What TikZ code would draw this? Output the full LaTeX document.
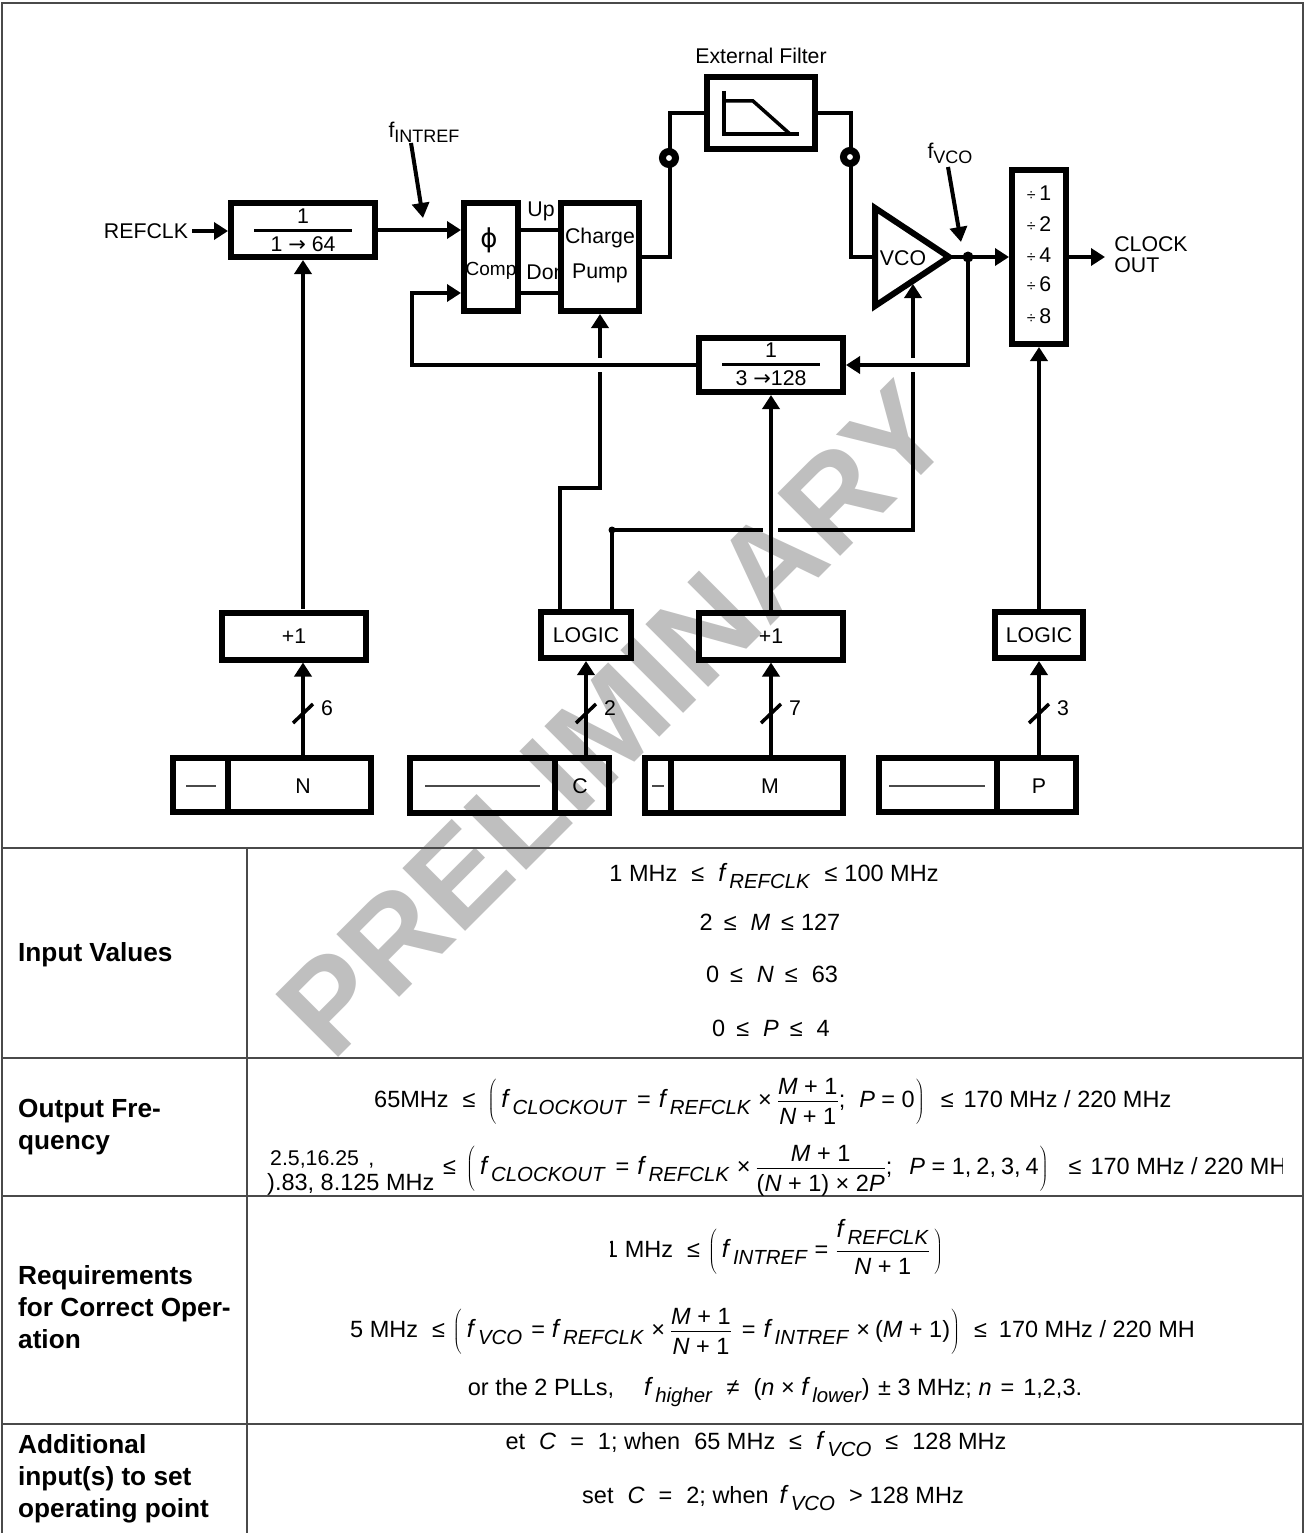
\documentclass[tikz,border=0pt]{standalone}
\usepackage{graphicx}
\usepackage{fontspec}
\setmainfont{Liberation Sans}
\newfontfamily\symbolface{DejaVu Sans}
\usetikzlibrary{arrows.meta}
\newcommand{\lblsize}{\fontsize{21.3}{24}\selectfont}
\newcommand{\mathsize}{\fontsize{23.5}{26}\selectfont}
\newcommand{\fsub}[1]{{\fontsize{25}{26}\selectfont\textit{f}}\hspace{2pt}\raisebox{-7pt}{\fontsize{20.4}{22}\selectfont\textit{#1}}}
\newcommand{\bigfrac}[2]{$\displaystyle\frac{\mbox{\raisebox{-4pt}[.8em][0pt]{#1}}}{\mbox{\raisebox{0pt}[.6em][\depth]{#2}}}$}
\newcommand{\lpar}{\scalebox{1}[.84]{$\left(\vphantom{\displaystyle\frac{\mbox{M}}{\mbox{N}}}\right.$}}
\newcommand{\rpar}{\scalebox{1}[.84]{$\left.\vphantom{\displaystyle\frac{\mbox{M}}{\mbox{N}}}\right)$}}
\newcommand{\gapa}{\hspace{11pt}}
\newcommand{\gapb}{\hspace{14pt}}
\newcommand{\gapc}{\hspace{7pt}}
\newcommand{\timesgap}{\hspace{7pt}×\hspace{5pt}}
\newcommand{\eqgap}{\hspace{10pt}=\hspace{8pt}}
\newcommand{\divsign}{{\fontsize{16}{18}\selectfont ÷}\,}
\newcommand{\rarrow}{{\symbolface\fontsize{21}{24}\selectfont →}}
\definecolor{ruleGray}{HTML}{4A4A4A}
\definecolor{stampGray}{HTML}{BFBFBF}
\tikzset{
	thick box/.style={draw, line width=6pt, inner sep=0pt, align=center, font=\lblsize},
	wire/.style={line width=4pt},
	arrow wire/.style={line width=4pt, -{Triangle[length=14pt,width=17pt]}},
	pointer/.style={line width=4pt, -{Triangle[length=15pt,width=17pt]}},
	label/.style={inner sep=0pt, align=left, font=\lblsize},
	rule line/.style={line width=2.2pt, draw=ruleGray},
	row head/.style={inner sep=0pt, anchor=base west, font=\fontsize{26.2}{28}\selectfont\bfseries},
	formula/.style={inner sep=0pt, anchor=base, font=\mathsize},
	long formula/.style={inner sep=0pt, anchor=base west, font=\mathsize},
	thin dash/.style={line width=1.5pt, draw=ruleGray},
	bus slash/.style={line width=3.5pt},
	tap/.style={circle, fill=black, inner sep=0pt, minimum size=#1},
	ring/.style={circle, draw, line width=7pt, fill=white, inner sep=0pt, minimum size=13pt},
}
\begin{document}
\begin{tikzpicture}[x=1pt, y=-1pt]
	\useasboundingbox (0,0) rectangle (1305,1533);
	\node (stamp) [rotate=45, text=stampGray, inner sep=0pt, font=\fontsize{129}{129}\selectfont\bfseries] at (614,720) {PRELIMINARY};

	% Table rules
	\draw[rule line] (2,1533) -- (2,3) -- (1303,3) -- (1303,1533);
	\draw[rule line] (2,848) -- (1303,848);
	\draw[rule line] (2,1058) -- (1303,1058);
	\draw[rule line] (2,1196) -- (1303,1196);
	\draw[rule line] (2,1424) -- (1303,1424);
	\draw[rule line] (247,848) -- (247,1533);

	% Text that the boxes overlap
	\node (upText) [label] at (541,211) {Up};
	\node (dnText) [label] at (546,272) {Don};

	% Boxes
	\node (divN) [thick box, minimum width=144pt, minimum height=54pt] at (303,230) {};
	\node (comp) [thick box, minimum width=54pt, minimum height=108pt] at (491,257) {};
	\node (pump) [thick box, minimum width=78pt, minimum height=108pt] at (600,257) {};
	\node (filter) [thick box, minimum width=108pt, minimum height=72pt] at (761,113) {};
	\node (divM) [thick box, minimum width=144pt, minimum height=54pt] at (771,365) {};
	\node (mux) [thick box, minimum width=54pt, minimum height=174pt] at (1039,257) {};
	\node (plusN) [thick box, minimum width=144pt, minimum height=47pt] at (294,636) {+1};
	\node (logicC) [thick box, minimum width=90pt, minimum height=46pt] at (586,635) {LOGIC};
	\node (plusM) [thick box, minimum width=144pt, minimum height=47pt] at (771,636) {+1};
	\node (logicP) [thick box, minimum width=88pt, minimum height=46pt] at (1039,635) {LOGIC};
	\node (regNx) [thick box, minimum width=55pt, minimum height=54pt] at (200.5,785) {};
	\node (regN) [thick box, minimum width=143pt, minimum height=54pt] at (299.5,785) {};
	\node (regCx) [thick box, minimum width=145pt, minimum height=55pt] at (482.5,785.5) {};
	\node (regC) [thick box, minimum width=54pt, minimum height=55pt] at (582,785.5) {};
	\node (regMx) [thick box, minimum width=26pt, minimum height=55pt] at (658,785.5) {};
	\node (regM) [thick box, minimum width=172pt, minimum height=55pt] at (757,785.5) {};
	\node (regPx) [thick box, minimum width=118pt, minimum height=54pt] at (938,785) {};
	\node (regP) [thick box, minimum width=79pt, minimum height=54pt] at (1036.5,785) {};
	\node (nText) [label] at (303,786) {N};
	\node (cText) [label] at (580,786) {C};
	\node (mText) [label] at (770,786) {M};
	\node (pText) [label] at (1039,786) {P};

	\coordinate (vcoA) at (875,208);
	\coordinate (vcoB) at (875,306);
	\coordinate (vcoTip) at (949,257);
	\draw[line width=6pt, miter limit=20] (vcoA) -- (vcoTip) -- (vcoB) -- cycle;

	% Box texts
	\node (divNone) [label] at (303,216) {1};
	\node (divNrange) [label] at (303,244) {1 \rarrow{} 64};
	\draw[line width=3pt] (254,230) -- (352,230);
	\node (divMone) [label] at (771,350) {1};
	\node (divMrange) [label] at (771,378) {3 \rarrow{}128};
	\draw[line width=3pt] (722,364) -- (820,364);
	\node (phi) [label, font=\symbolface\fontsize{26}{28}\selectfont] at (489,240) {ϕ};
	\node (compText) [label, font=\fontsize{19}{20}\selectfont] at (491,271) {Comp};
	\node (pumpA) [label] at (600,238) {Charge};
	\node (pumpB) [label] at (600,273) {Pump};
	\node (vcoText) [label] at (903,258) {VCO};
	\node (muxA) [label] at (1039,193) {\divsign 1};
	\node (muxB) [label] at (1039,224) {\divsign 2};
	\node (muxC) [label] at (1039,255) {\divsign 4};
	\node (muxD) [label] at (1039,284) {\divsign 6};
	\node (muxE) [label] at (1039,316) {\divsign 8};

	% Filter sketch
	\draw[line width=3.5pt] (724,91) -- (724,134) -- (799,134);
	\draw[line width=3.5pt] (724,101) -- (753,101) -- (790,134);

	% Outer labels
	\node (filterText) [label] at (761,56) {External Filter};
	\node (refclk) [label] at (146,231) {REFCLK};
	\node (clockOut) [label, font=\fontsize{21.3}{21}\selectfont] at (1151,255) {CLOCK\\OUT};
	\node (fIntref) [label] at (424,132) {f\raisebox{-5pt}{\fontsize{18}{20}\selectfont INTREF}};
	\node (fVco) [label] at (950,153) {f\raisebox{-5pt}{\fontsize{18}{20}\selectfont VCO}};

	% Main path
	\draw[arrow wire, shorten <=4pt] (refclk.east) -- (divN.west |- refclk.east);
	\draw[arrow wire] (divN.east) -- (comp.west |- divN.east);
	\coordinate (dnLow) at (521,293);
	\draw[wire] (comp.east |- divN.east) -- (pump.west |- divN.east);
	\draw[wire] (dnLow) -- (pump.west |- dnLow);
	\coordinate (toFilterL) at (670,113);
	\coordinate (toFilterR) at (851,113);
	\coordinate (tapDot) at (968,257);
	\draw[wire] (pump.east) -- (toFilterL |- pump.east) -- (toFilterL) -- (filter.west);
	\draw[wire] (filter.east) -- (toFilterR) -- (toFilterR |- vcoTip) -- (vcoA |- vcoTip);
	\node (ringL) [ring] at (669,158) {};
	\node (ringR) [ring] at (850,157) {};
	\draw[wire] (vcoTip) -- (tapDot);
	\draw[arrow wire] (tapDot) -- (mux.west);
	\node (tapNode) [tap=11pt] at (tapDot) {};
	\coordinate (clockEnd) at (1105,257);
	\draw[arrow wire] (mux.east) -- (clockEnd);

	% Feedback
	\coordinate (fbLeft) at (412,365);
	\coordinate (compLow) at (461,293);
	\draw[arrow wire] (tapDot) -- (tapDot |- divM.east) -- (divM.east);
	\draw[arrow wire] (divM.west) -- (fbLeft) -- (fbLeft |- compLow) -- (compLow);

	% Pointers
	\coordinate (intrefA) at (411,143);
	\coordinate (intrefB) at (423,218);
	\coordinate (vcoPtrA) at (948,167);
	\coordinate (vcoPtrB) at (961,242);
	\draw[pointer] (intrefA) -- (intrefB);
	\draw[pointer] (vcoPtrA) -- (vcoPtrB);

	% Control lines
	\coordinate (stepA) at (560,488);
	\coordinate (stepB) at (600,488);
	\coordinate (gapA) at (600,372);
	\coordinate (gapB) at (600,358);
	\draw[wire] (logicC.north -| stepA) -- (stepA) -- (stepB) -- (gapA);
	\draw[arrow wire] (gapB) -- (pump.south);
	\coordinate (tapC) at (612,530);
	\coordinate (busGapL) at (763,530);
	\coordinate (busGapR) at (778,530);
	\coordinate (vcoCorner) at (913,530);
	\coordinate (gapC) at (913,372);
	\coordinate (gapD) at (913,358);
	\draw[wire] (logicC.north -| tapC) -- (tapC) -- (busGapL);
	\draw[wire] (busGapR) -- (vcoCorner) -- (gapC);
	\coordinate (vcoUnder) at (913,284);
	\draw[arrow wire] (gapD) -- (vcoUnder);
	\node (tapCNode) [tap=7pt] at (tapC) {};
	\draw[arrow wire] (plusM.north) -- (divM.south);
	\coordinate (nUp) at (303,609);
	\draw[arrow wire] (nUp) -- (divN.south -| nUp);
	\draw[arrow wire] (logicP.north) -- (mux.south);

	% Register buses
	\draw[arrow wire] (nUp |- regN.north) -- (nUp |- plusN.south);
	\draw[arrow wire] (regC.north -| logicC.south) -- (logicC.south);
	\draw[arrow wire] (regM.north -| plusM.south) -- (plusM.south);
	\draw[arrow wire] (regP.north -| logicP.south) -- (logicP.south);
	\foreach \busx/\busn in {303/6, 586/2, 771/7, 1039/3} {
		\draw[bus slash] (\busx-10,723) -- (\busx+10,704);
		\node (bus\busn) [label] at (\busx+24,708) {\busn};
	}
	\draw[thin dash] (186,786) -- (216,786);
	\draw[thin dash] (425,786) -- (540,786);
	\draw[thin dash] (652,786) -- (664,786);
	\draw[thin dash] (889,786) -- (985,786);

	% Row heads
	\node (headA) [row head] at (18,961) {Input Values};
	\node (headB) [row head] at (18,1117) {Output Fre-};
	\node (headC) [row head] at (18,1149) {quency};
	\node (headD) [row head] at (18,1284) {Requirements};
	\node (headE) [row head] at (18,1316) {for Correct Oper-};
	\node (headF) [row head] at (18,1348) {ation};
	\node (headG) [row head] at (18,1453) {Additional};
	\node (headH) [row head] at (18,1485) {input(s) to set};
	\node (headI) [row head] at (18,1517) {operating point};

	% Formulas
	\node (lineA) [formula] at (774,881) {1 MHz\gapb ≤\gapb\fsub{REFCLK}\gapb ≤\gapc 100 MHz};
	\node (lineB) [formula] at (770,930) {2\gapa ≤\gapb\textit{M}\gapa ≤\gapc 127};
	\node (lineC) [formula] at (772,982) {0\gapa ≤\gapb\textit{N}\gapa ≤\gapb 63};
	\node (lineD) [formula] at (771,1036) {0\gapa ≤\gapb\textit{P}\gapa ≤\gapb 4};
	\node (lineE) [long formula] at (374,1107) {65MHz\gapb ≤\hspace{12pt}\lpar\hspace{4pt}\fsub{CLOCKOUT}\eqgap\fsub{REFCLK}\timesgap\bigfrac{\textit{M} + 1}{\textit{N} + 1};\gapb\textit{P} = 0\rpar\hspace{16pt}≤\hspace{10pt}170 MHz / 220 MHz};
	\node (lineFa) [long formula, font=\lblsize] at (270,1165) {2.5,16.25 \,,};
	\node (lineFb) [long formula] at (267,1190) {).83, 8.125 MHz};
	\begin{scope}
		\clip (250,1130) rectangle (1282,1195);
		\node (lineF) [long formula] at (443,1174) {≤\hspace{10pt}\lpar\hspace{4pt}\fsub{CLOCKOUT}\eqgap\fsub{REFCLK}\timesgap\bigfrac{\textit{M} + 1}{(\textit{N} + 1) × 2\textit{P}};\hspace{17pt}\textit{P} = 1,\hspace{5pt}2,\hspace{5pt}3,\hspace{5pt}4\rpar\hspace{20pt}≤\hspace{9pt}170 MHz / 220 MH};
	\end{scope}
	\begin{scope}
		\clip (610,1200) rectangle (939,1290);
		\node (lineG) [long formula] at (605,1257) {1 MHz\gapb ≤\hspace{8pt}\lpar\hspace{4pt}\fsub{INTREF}\hspace{7pt}=\hspace{7pt}\bigfrac{\raisebox{7pt}{\fsub{REFCLK}}}{\textit{N} + 1}\hspace{3pt}\rpar};
	\end{scope}
	\node (lineH) [long formula] at (350,1337) {5 MHz\gapb ≤\hspace{8pt}\lpar\hspace{4pt}\fsub{VCO}\hspace{9pt}=\hspace{7pt}\fsub{REFCLK}\timesgap\bigfrac{\textit{M} + 1}{\textit{N} + 1}\eqgap\fsub{INTREF}\timesgap(\textit{M} + 1)\rpar\gapb ≤\hspace{12pt}170 MHz / 220 MH};
	\node (lineI) [formula] at (775,1395) {or the 2 PLLs,\hspace{30pt}\fsub{higher}\gapb ≠\gapb(\textit{n} × \fsub{lower})\hspace{2pt} ± 3 MHz; \textit{n}\hspace{9pt}=\hspace{9pt}1,2,3.};
	\node (lineJ) [formula] at (756,1449) {et\gapb\textit{C}\gapb =\gapb 1; when\gapb 65 MHz\gapb ≤\gapb\fsub{VCO}\gapb ≤\gapb 128 MHz};
	\node (lineK) [formula] at (773,1503) {set\gapb\textit{C}\gapb =\gapb 2; when\hspace{11pt}\fsub{VCO}\gapb >\gapc 128 MHz};
\end{tikzpicture}
\end{document}
